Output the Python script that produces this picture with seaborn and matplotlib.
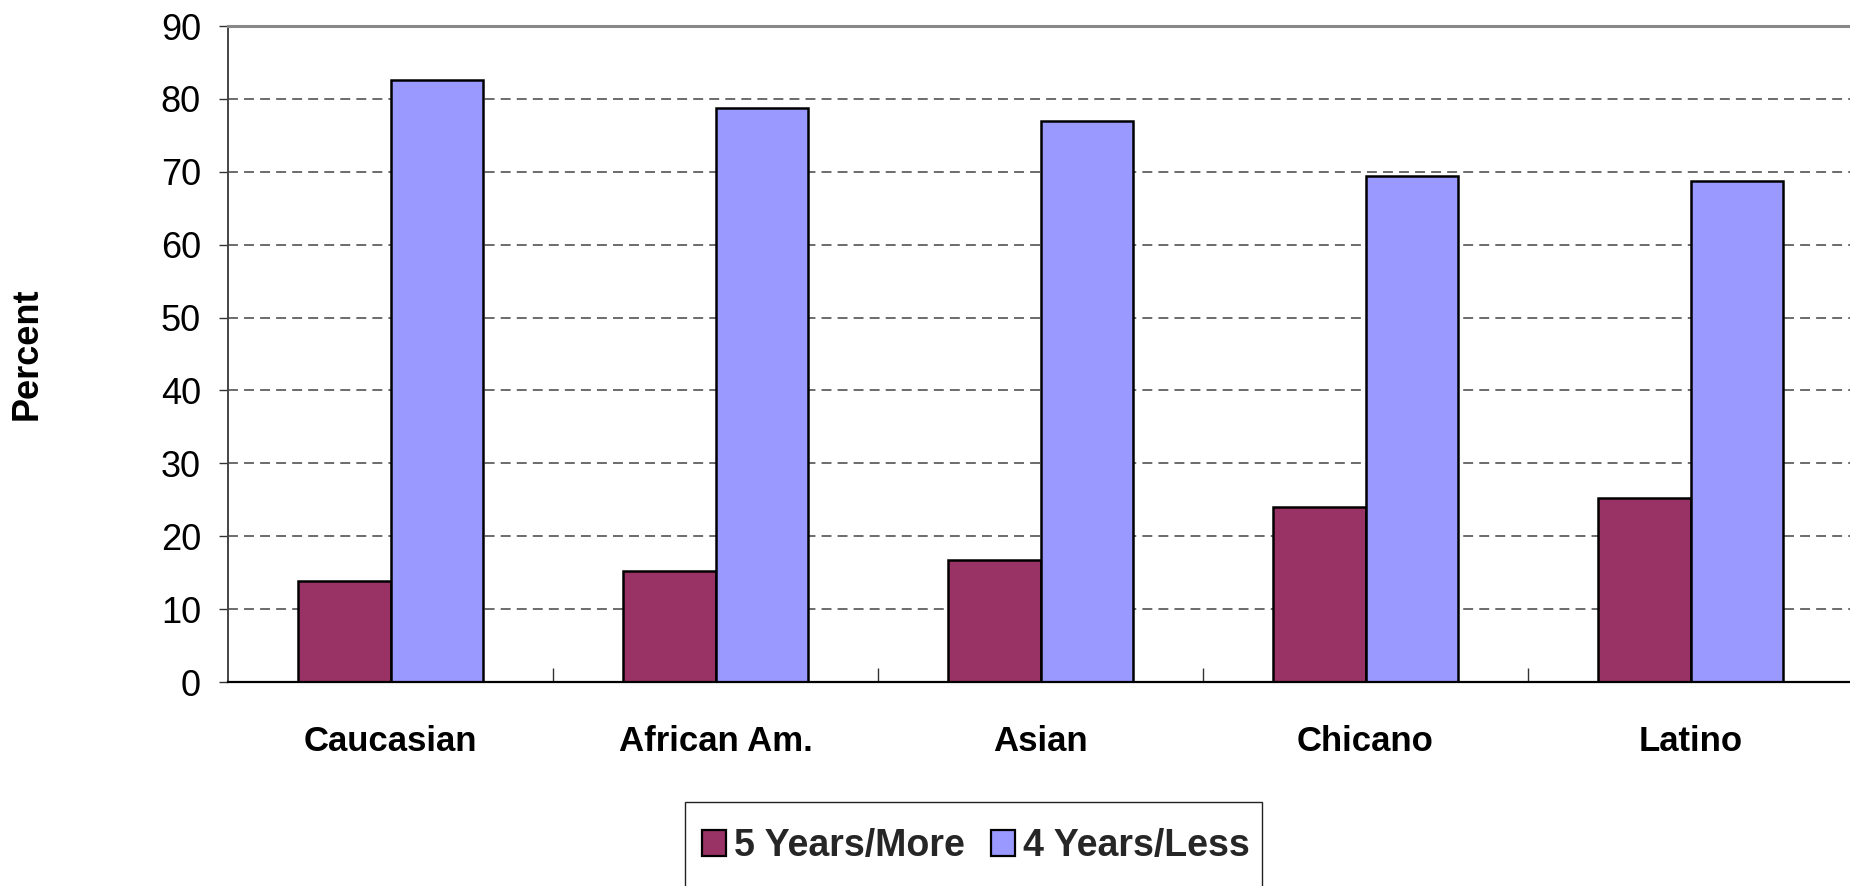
import matplotlib
matplotlib.use("Agg")
import matplotlib.pyplot as plt
from matplotlib.patches import Patch, Rectangle
import seaborn as sns
import pandas as pd

# Share of graduates by time to degree, per ethnic group
groups = ["Caucasian", "African Am.", "Asian", "Chicano", "Latino"]
five_years_more = [13.8, 15.2, 16.8, 24.0, 25.3]
four_years_less = [82.6, 78.8, 76.9, 69.4, 68.8]
series_names = ["5 Years/More", "4 Years/Less"]
series_colors = ["#993366", "#9999FF"]
y_ticks = [0, 10, 20, 30, 40, 50, 60, 70, 80, 90]

df = pd.DataFrame({
    "group": groups * 2,
    "series": [series_names[0]] * len(groups) + [series_names[1]] * len(groups),
    "value": five_years_more + four_years_less,
})

sns.set_theme(style="white")
plt.rcParams["font.family"] = ["Liberation Sans", "DejaVu Sans"]

W, H = 1850, 886
fig = plt.figure(figsize=(W / 100, H / 100), dpi=100)
ax = fig.add_axes([228 / W, 1 - 682 / H, (1853 - 228) / W, (682 - 26) / H])

sns.barplot(
    data=df, x="group", y="value", hue="series",
    hue_order=series_names, palette=series_colors,
    width=0.57, gap=0, edgecolor="black", linewidth=1.8,
    saturation=1, ax=ax, legend=False,
)

ax.set_xlim(-0.5, len(groups) - 0.5)
ax.set_ylim(0, 90)
ax.set_yticks(y_ticks)
ax.set_yticklabels([str(t) for t in y_ticks], fontsize=26, color="black")
ax.set_xticks(range(len(groups)))
ax.set_xticklabels(groups, fontsize=25, fontweight="bold", color="black")
ax.set_xticks([i + 0.5 for i in range(len(groups) - 1)], minor=True)
ax.tick_params(axis="x", which="major", length=0, pad=31)
ax.tick_params(axis="x", which="minor", direction="in", length=10, width=1, color="#333333", bottom=True)
ax.tick_params(axis="y", which="major", direction="out", length=6.5, width=1, color="#333333", left=True, pad=13)

ax.set_xlabel("")
ax.set_ylabel("Percent", fontsize=26, fontweight="bold", color="black")
ax.yaxis.set_label_coords(-0.1126, 0.5)

for y in y_ticks[1:-1]:
    ax.axhline(y, color="#444444", linewidth=1.1, linestyle=(0, (6.5, 4)), zorder=0)
ax.set_axisbelow(True)

ax.spines["top"].set_color("#888888")
ax.spines["top"].set_linewidth(2.2)
ax.spines["left"].set_color("#444444")
ax.spines["left"].set_linewidth(1.4)
ax.spines["bottom"].set_color("black")
ax.spines["bottom"].set_linewidth(1.6)
ax.spines["right"].set_visible(False)

# Legend: frame runs past the lower edge of the figure
handles = [Patch(facecolor=c, edgecolor="black", linewidth=1.6) for c in series_colors]
fig.legend(
    handles, series_names, loc="center left",
    bbox_to_anchor=(702 / W, 1 - 846 / H),
    ncol=2, frameon=False,
    prop={"family": "Liberation Sans", "weight": "bold", "size": 27},
    handlelength=0.65, handleheight=0.7, handletextpad=0.2,
    columnspacing=0.7, borderpad=0, borderaxespad=0,
)
fig.patches.append(Rectangle(
    (685 / W, -0.05), (1262 - 685) / W, 0.05 + (H - 802) / H,
    transform=fig.transFigure, facecolor="none", edgecolor="#222222", linewidth=1.0,
))

fig.savefig("out.png", dpi=100, facecolor="white")
